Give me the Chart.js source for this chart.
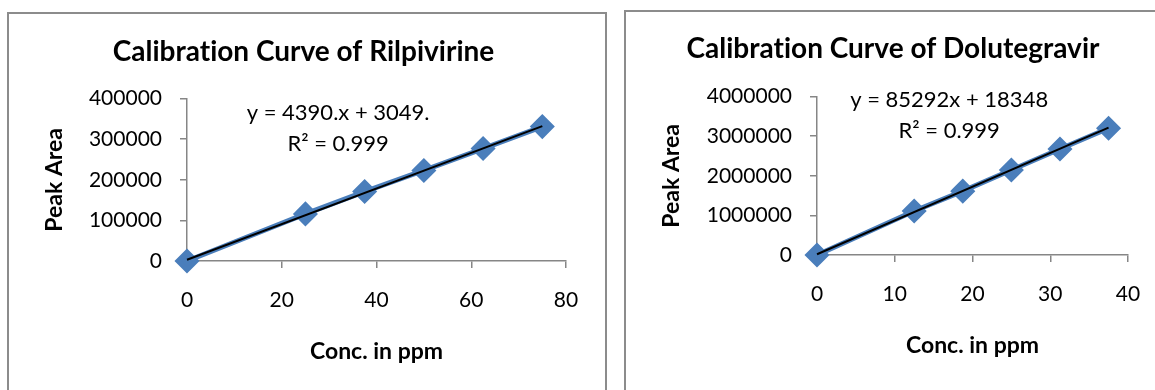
<!DOCTYPE html>
<html>
<head>
<meta charset="utf-8">
<script src="https://cdn.jsdelivr.net/npm/chart.js@4"></script>
<style>
  body { margin: 0; background: #fff; width: 1155px; height: 390px; overflow: hidden; position: relative; }
  .panel { position: absolute; border: 2px solid #8c8c8c; border-bottom: none; box-sizing: border-box; }
  canvas { position: absolute; }
</style>
</head>
<body>
<div class="panel" style="left:7px; top:12px; width:600px; height:400px;"></div>
<div class="panel" style="left:624px; top:10px; width:560px; height:400px;"></div>
<canvas id="rilChart" style="left:10px; top:14px;" width="596" height="376"></canvas>
<canvas id="dolChart" style="left:627px; top:12px;" width="528" height="378"></canvas>
<script>
// Rilpivirine calibration
const rilConc = [0, 25, 37.5, 50, 62.5, 75];
const rilArea = [0, 116000, 171000, 223000, 277000, 331000];
const rilFitConc = [0, 75];
const rilFitArea = [3049, 332300];
const rilEquation = ['y = 4390.x + 3049.', 'R² = 0.999'];
const rilLabelAt = [[31.9, 365000], [31.9, 289000]];

// Dolutegravir calibration
const dolConc = [0, 12.5, 18.75, 25, 31.25, 37.5];
const dolArea = [0, 1111000, 1613000, 2148000, 2675000, 3200000];
const dolFitConc = [0, 37.5];
const dolFitArea = [18348, 3216800];
const dolEquation = ['y = 85292x + 18348', 'R² = 0.999'];
const dolLabelAt = [[17.0, 3924000], [17.0, 3139000]];

const axisGray = '#868686';
const font = 'Lato';

const equationLabels = {
    id: 'equationLabels',
    afterDatasetsDraw(chart, args, opts) {
        const {ctx, scales} = chart;
        ctx.save();
        ctx.font = '22px ' + font;
        ctx.fillStyle = '#000';
        ctx.textAlign = 'center';
        ctx.textBaseline = 'middle';
        opts.lines.forEach((txt, i) => {
            const p = opts.at[i];
            ctx.fillText(txt, scales.x.getPixelForValue(p[0]), scales.y.getPixelForValue(p[1]));
        });
        ctx.restore();
    }
};

function pts(xs, ys) {
    return xs.map((x, i) => ({x: x, y: ys[i]}));
}

function makeChart(id, o) {
    new Chart(document.getElementById(id), {
        type: 'scatter',
        data: {
            datasets: [{
                data: pts(o.conc, o.area),
                order: 1,
                showLine: true,
                borderColor: '#4a7ebb',
                backgroundColor: '#4a7ebb',
                borderWidth: 5,
                pointStyle: 'rectRot',
                pointRadius: 9,
                pointHoverRadius: 9,
                clip: false
            }, {
                data: pts(o.fitConc, o.fitArea),
                order: 0,
                showLine: true,
                borderColor: '#000',
                borderWidth: 2,
                pointRadius: 0,
                clip: false
            }]
        },
        plugins: [equationLabels],
        options: {
            responsive: false,
            animation: false,
            events: [],
            layout: { padding: { left: o.padLeft, right: o.padRight, top: 0, bottom: o.padBottom } },
            plugins: {
                legend: { display: false },
                tooltip: { enabled: false },
                title: {
                    display: true,
                    text: o.title,
                    color: '#000',
                    font: { family: font, size: 28, weight: 'bold', lineHeight: 1.2 },
                    padding: { top: o.titleTop, bottom: o.titleBottom }
                },
                equationLabels: { lines: o.equation, at: o.labelAt }
            },
            scales: {
                x: {
                    type: 'linear',
                    min: 0, max: o.xMax,
                    // fixed height; layout padding alone decides the right edge
                    afterFit: s => { s.height = 104; s.paddingLeft = 0; s.paddingRight = 0; },
                    ticks: { stepSize: o.xStep, color: '#000', padding: 20, font: { family: font, size: 21 } },
                    grid: { drawOnChartArea: false, color: axisGray, tickLength: 7, lineWidth: 1.5 },
                    border: { color: axisGray, width: 1.5 },
                    title: {
                        display: true, text: 'Conc. in ppm', color: '#000', padding: 0,
                        font: { family: font, size: 23, weight: 'bold', lineHeight: 1.2 }
                    }
                },
                y: {
                    min: 0, max: o.yMax,
                    afterFit: s => { s.width = o.yWidth; },
                    ticks: {
                        stepSize: o.yStep, color: '#000', padding: 18,
                        font: { family: font, size: 21 },
                        callback: v => String(v)
                    },
                    grid: { drawOnChartArea: false, color: axisGray, tickLength: 7, lineWidth: 1.5 },
                    border: { color: axisGray, width: 1.5 },
                    title: {
                        display: true, text: 'Peak Area', color: '#000', padding: 0,
                        font: { family: font, size: 23, weight: 'bold', lineHeight: 1.2 }
                    }
                }
            }
        }
    });
}

// \u200C keeps Lato from joining "ti" into a ligature
makeChart('rilChart', {
    title: 'Calibrat\u200Cion Curve of Rilpivirine',
    conc: rilConc, area: rilArea, fitConc: rilFitConc, fitArea: rilFitArea,
    equation: rilEquation, labelAt: rilLabelAt,
    xMax: 80, xStep: 20, yMax: 400000, yStep: 100000,
    padLeft: 31, padRight: 40, padBottom: 25, yWidth: 146,
    titleTop: 21, titleBottom: 30
});

makeChart('dolChart', {
    title: 'Calibrat\u200Cion Curve of Dolutegravir',
    conc: dolConc, area: dolArea, fitConc: dolFitConc, fitArea: dolFitArea,
    equation: dolEquation, labelAt: dolLabelAt,
    xMax: 40, xStep: 10, yMax: 4000000, yStep: 1000000,
    padLeft: 31, padRight: 27, padBottom: 31, yWidth: 159,
    titleTop: 20, titleBottom: 31
});
</script>
</body>
</html>
